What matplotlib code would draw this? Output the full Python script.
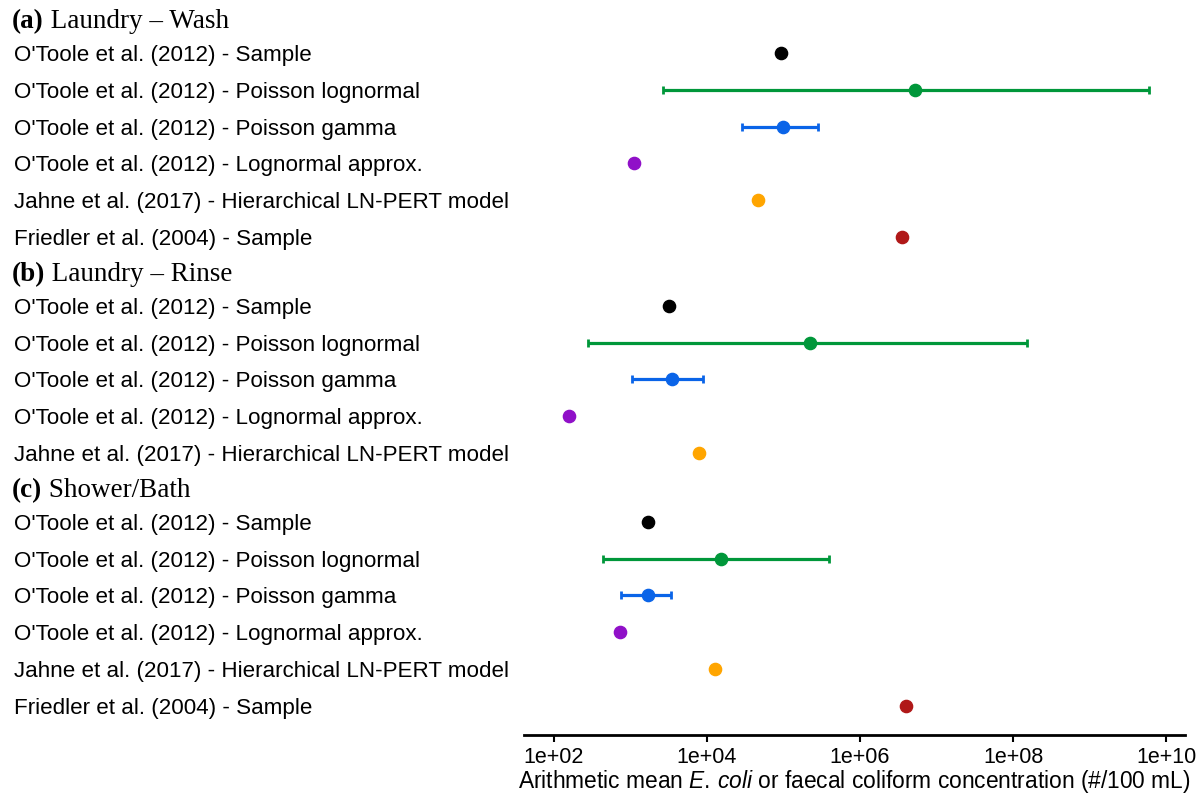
import matplotlib
matplotlib.use("Agg")
import matplotlib.pyplot as plt
import matplotlib.transforms as mtransforms

plt.rcParams['font.family'] = ['Liberation Sans', 'DejaVu Sans']
plt.rcParams['mathtext.fontset'] = 'custom'
plt.rcParams['mathtext.rm'] = 'Liberation Sans'
plt.rcParams['mathtext.it'] = 'Liberation Sans:italic'

# Panels
group_tags = ["(a)", "(b)", "(c)"]
group_names = ["Laundry \u2013 Wash", "Laundry \u2013 Rinse", "Shower/Bath"]

# Rows per panel
labels_a = ["O'Toole et al. (2012) - Sample",
            "O'Toole et al. (2012) - Poisson lognormal",
            "O'Toole et al. (2012) - Poisson gamma",
            "O'Toole et al. (2012) - Lognormal approx.",
            "Jahne et al. (2017) - Hierarchical LN-PERT model",
            "Friedler et al. (2004) - Sample"]
labels_b = labels_a[:5]
labels_c = labels_a[:]

methods_a = ["sample", "pln", "pg", "lna", "jahne", "friedler"]
methods_b = methods_a[:5]
methods_c = methods_a[:]

# Arithmetic mean concentrations (#/100 mL) and intervals (None = no interval)
mean_a = [9.3e4, 5.2e6, 1.0e5, 1.1e3, 4.7e4, 3.5e6]
low_a = [None, 2.7e3, 2.9e4, None, None, None]
high_a = [None, 6.0e9, 2.8e5, None, None, None]

mean_b = [3.2e3, 2.2e5, 3.5e3, 1.6e2, 7.9e3]
low_b = [None, 2.8e2, 1.05e3, None, None]
high_b = [None, 1.5e8, 8.9e3, None, None]

mean_c = [1.7e3, 1.55e4, 1.7e3, 7.4e2, 1.26e4, 4.0e6]
low_c = [None, 4.4e2, 7.6e2, None, None, None]
high_c = [None, 3.9e5, 3.4e3, None, None, None]

tick_values = [1e2, 1e4, 1e6, 1e8, 1e10]
tick_labels = ["1e+02", "1e+04", "1e+06", "1e+08", "1e+10"]

colors = {"sample": "black", "pln": "#00973A", "pg": "#0A64E8",
          "lna": "#9010C8", "jahne": "#FFA500", "friedler": "#B01818"}

groups = [(labels_a, methods_a, mean_a, low_a, high_a),
          (labels_b, methods_b, mean_b, low_b, high_b),
          (labels_c, methods_c, mean_c, low_c, high_c)]

fig = plt.figure(figsize=(12.04, 7.97), dpi=100)
ax = fig.add_axes([0.435, 0.078, 0.549, 0.922])
label_tr = mtransforms.blended_transform_factory(fig.transFigure, ax.transData)

group_gap = 1.87
y0 = 0.0
for g, (labels, methods, means, lows, highs) in enumerate(groups):
    # panel heading
    t = ax.text(0.010, y0 - 0.85, group_tags[g], transform=label_tr,
                family=['Liberation Serif', 'DejaVu Serif'], fontsize=19.5,
                fontweight='bold', va='center', ha='left')
    ax.annotate(" " + group_names[g], xy=(1, 0), xycoords=t,
                family=['Liberation Serif', 'DejaVu Serif'], fontsize=19.5,
                va='bottom', ha='left')
    for i in range(len(labels)):
        y = y0 + i
        c = colors[methods[i]]
        ax.text(0.0116, y, labels[i], transform=label_tr, fontsize=16.1,
                va='center_baseline', ha='left')
        if lows[i] is not None:
            ax.errorbar([means[i]], [y],
                        xerr=[[means[i] - lows[i]], [highs[i] - means[i]]],
                        fmt='o', color=c, ms=8.8, elinewidth=2.3,
                        capsize=3.2, capthick=2)
        else:
            ax.plot([means[i]], [y], 'o', color=c, ms=8.8)
    y0 += len(labels) - 1 + group_gap

ax.set_xscale('log')
ax.set_xlim(10 ** 1.608, 10 ** 10.24)
ax.set_ylim(18.53, -1.44)
ax.set_xticks(tick_values)
ax.set_xticklabels(tick_labels)
ax.minorticks_off()
ax.set_yticks([])
for s in ['left', 'right', 'top']:
    ax.spines[s].set_visible(False)
ax.spines['bottom'].set_linewidth(2)
ax.tick_params(axis='x', labelsize=15.5, width=1.5, length=5, pad=4)
ax.set_xlabel(r"Arithmetic mean $\mathit{E.\,coli}$ or faecal coliform concentration (#/100 mL)",
              fontsize=16.4, labelpad=0)

fig.savefig("out.png", dpi=100)
